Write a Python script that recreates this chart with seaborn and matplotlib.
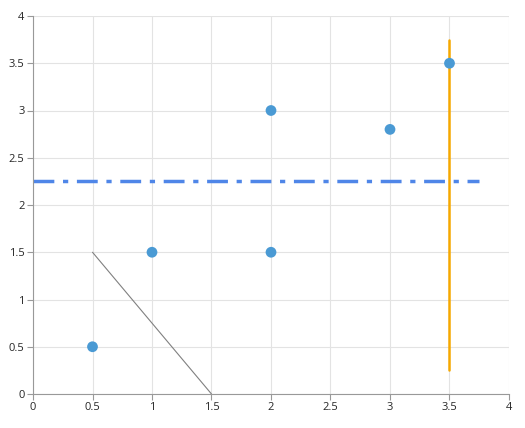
import numpy as np
import pandas as pd
import matplotlib as mpl
mpl.use('Agg')
import matplotlib.pyplot as plt
import seaborn as sns

## data
pt_x = [0.5, 1, 2, 2, 3, 3.5]
pt_y = [0.5, 1.5, 1.5, 3, 2.8, 3.5]
diag_x = [0.5, 1.5]
diag_y = [1.5, 0]
hline_y = 2.25
hline_x = [0, 3.75]
vline_x = 3.5
vline_y = [0.25, 3.75]
ticks = [0, 0.5, 1, 1.5, 2, 2.5, 3, 3.5, 4]
tick_labels = ['0', '0.5', '1', '1.5', '2', '2.5', '3', '3.5', '4']

sns.set_style('white')
plt.rcParams['font.family'] = ['Open Sans', 'DejaVu Sans']

fig = plt.figure(figsize=(5.25, 4.28), dpi=100)
ax = fig.add_axes([33/525, 1-394/428, 476/525, 378/428])

df = pd.DataFrame({'x': pt_x, 'y': pt_y})
ax.plot(diag_x, diag_y, color='grey', lw=0.8, zorder=2)
ax.plot(hline_x, [hline_y]*2, color='#4f86e8', lw=2.5, ls=(0, (6, 2.5, 1.5, 2.5)), zorder=2)
ax.plot([vline_x]*2, vline_y, color='#f6a800', lw=1.8, zorder=3)
sns.scatterplot(data=df, x='x', y='y', ax=ax, color='#4a9ad4', s=60, edgecolor='none', zorder=4)

ax.set(xlim=(0, 4), ylim=(0, 4), xlabel='', ylabel='')
ax.set_xticks(ticks, tick_labels)
ax.set_yticks(ticks, tick_labels)
ax.grid(True, color='#e3e3e3', lw=0.8)
ax.set_axisbelow(True)
for s in ['top', 'right']:
    ax.spines[s].set_visible(False)
for s in ['left', 'bottom']:
    ax.spines[s].set_color('#999999')
    ax.spines[s].set_linewidth(0.8)
ax.tick_params(axis='both', labelsize=8, length=4, color='#999999', direction='out',
               bottom=True, left=True, pad=2)

plt.savefig('out.png', dpi=100)
